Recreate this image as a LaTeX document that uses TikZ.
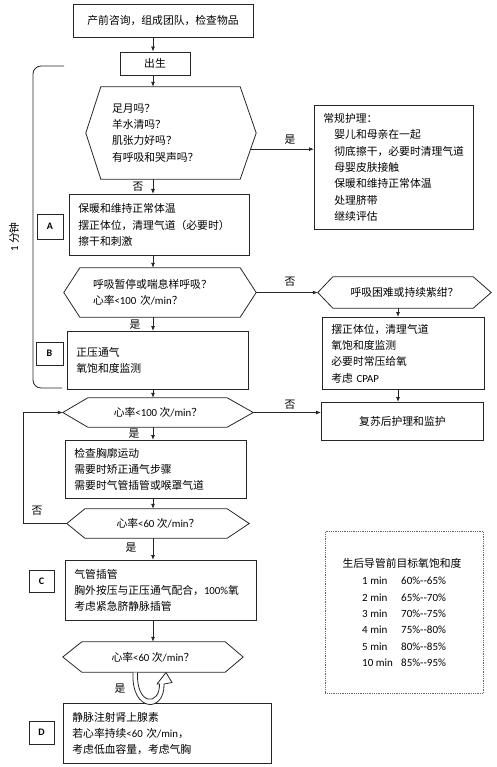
\documentclass[tikz,border=0pt]{standalone}
\usepackage{fontspec}
\setmainfont{Noto Sans CJK SC}
\newfontfamily\lat{Carlito}
\usetikzlibrary{calc,arrows.meta}
\newcommand\dd{-\kern0pt-}
\begin{document}
\begin{tikzpicture}[x=1pt,y=-1pt,
  every node/.style={font=\fontsize{10.8}{16.3}\selectfont},
  ln/.style={line width=0.8pt, draw=black!85},
  bx/.style={ln, draw, inner xsep=9pt, inner ysep=0pt, align=left, anchor=north west},
  cbx/.style={ln, draw, inner sep=0pt, align=center},
  hexn/.style={inner ysep=0pt, align=left},
  lbl/.style={ln, draw, inner sep=0pt, font=\lat\bfseries\fontsize{10}{12}\selectfont},
  arr/.style={ln, -{Latex[length=5pt,width=4pt]}},
  yn/.style={inner sep=0pt}]
\useasboundingbox (0,0) rectangle (496,767);
\coordinate (col) at (153,0);
\coordinate (rcol) at (398,0);

% top boxes
\node[cbx, minimum width=180pt, minimum height=33pt] (top) at (163,20.5) {产前咨询，组成团队，检查物品};
\node[cbx, minimum width=70pt, minimum height=23pt] (birth) at (155,63.5) {出生};

% hexagon 1
\node[hexn, minimum width=170pt, minimum height=92pt, inner xsep=26pt, text width=118pt] (h1) at (171,133)
  {足月吗？\\羊水清吗？\\肌张力好吗？\\有呼吸和哭声吗？};
\coordinate (h1se) at ($(h1.south east)+(-16,0)$);
\draw[ln] ($(h1.north west)+(15,0)$) -- ($(h1.north east)+(-16,0)$) -- (h1.east) -- (h1se) -- ($(h1.south west)+(15,0)$) -- (h1.west) -- cycle;

% routine care
\node[bx, text width=141pt, minimum height=124pt] (care) at (314,105)
  {常规护理：\\\hspace*{11pt}婴儿和母亲在一起\\\hspace*{11pt}彻底擦干，必要时清理气道\\\hspace*{11pt}母婴皮肤接触\\\hspace*{11pt}保暖和维持正常体温\\\hspace*{11pt}处理脐带\\\hspace*{11pt}继续评估};
\coordinate (p1) at ($(h1.east)!0.35!(h1se)$);
\draw[arr] (p1) -- (p1 -| care.west);
\node[yn] (y1) at (290,140) {是};

% A
\node[bx, text width=162pt, minimum height=61pt] (A) at (69,194)
  {保暖和维持正常体温\\摆正体位，清理气道（必要时）\\擦干和刺激};
\node[lbl, minimum width=26pt, minimum height=25pt] (la) at (50,226.5) {A};
\node[yn] (n1) at (138,187) {否};

% hexagon 2
\node[hexn, minimum width=192pt, minimum height=49pt, inner xsep=29pt, text width=134pt] (h2) at (160,292.5)
  {呼吸暂停或喘息样呼吸？\\心率{\lat<100 }次{\lat/min}？};
\draw[ln] ($(h2.north west)+(16,0)$) -- ($(h2.north east)+(-16,0)$) -- (h2.east) -- ($(h2.south east)+(-16,0)$) -- ($(h2.south west)+(16,0)$) -- (h2.west) -- cycle;

% hexagon 3
\node[hexn, align=center, minimum width=173pt, minimum height=31pt, inner xsep=0pt] (h3) at (404.5,292.5)
  {呼吸困难或持续紫绀？};
\draw[ln] ($(h3.north west)+(15,0)$) -- ($(h3.north east)+(-18,0)$) -- (h3.east) -- ($(h3.south east)+(-18,0)$) -- ($(h3.south west)+(15,0)$) -- (h3.west) -- cycle;
\draw[arr] (h2.east) -- (h3.west);
\node[yn] (n2) at (290,282) {否};

% right box 2
\node[bx, text width=144pt, minimum height=72pt] (rb2) at (322,317)
  {摆正体位，清理气道\\氧饱和度监测\\必要时常压给氧\\考虑 {\lat CPAP}};

% B
\node[bx, text width=163pt, minimum height=58pt] (B) at (67,331)
  {正压通气\\氧饱和度监测};
\node[lbl, minimum width=27pt, minimum height=23pt] (lb) at (49.5,353.5) {B};
\node[yn] (y2) at (135,325) {是};

% bracket
\draw[ln, rounded corners=8pt] (64,66) -- (33,66) -- (33,388) -- (62,388);
\node[rotate=90, inner sep=0pt] (min1) at (14,237) {{\lat 1} 分钟};

% hexagon 4
\node[hexn, align=center, minimum width=190pt, minimum height=29pt, inner xsep=0pt] (h4) at (158,412.5)
  {心率{\lat<100 }次{\lat/min}？};
\draw[ln] ($(h4.north west)+(25,0)$) -- ($(h4.north east)+(-26,0)$) -- (h4.east) -- ($(h4.south east)+(-26,0)$) -- ($(h4.south west)+(25,0)$) -- (h4.west) -- cycle;

% post care
\node[cbx, minimum width=162pt, minimum height=38pt, anchor=north west] (post) at (321,402) {复苏后护理和监护};
\draw[arr] (h4.east) -- (h4.east -| post.west);
\node[yn] (n3) at (290,405) {否};

% check box
\node[bx, text width=163pt, minimum height=58pt] (chk) at (65,440)
  {检查胸廓运动\\需要时矫正通气步骤\\需要时气管插管或喉罩气道};
\node[yn] (y3) at (134,434) {是};

% hexagon 5
\node[hexn, align=center, minimum width=182pt, minimum height=29pt, inner xsep=0pt] (h5) at (158,523.5)
  {心率{\lat<60 }次{\lat/min}？};
\draw[ln] ($(h5.north west)+(18,0)$) -- ($(h5.north east)+(-22,0)$) -- (h5.east) -- ($(h5.south east)+(-22,0)$) -- ($(h5.south west)+(18,0)$) -- (h5.west) -- cycle;
\draw[arr] (h5.west) -- ++(-43,0) |- (h4.west);
\node[yn] (n4) at (37,511) {否};
\node[yn] (y4) at (131,548) {是};

% C
\node[bx, text width=173pt, minimum height=60pt] (C) at (65,560)
  {气管插管\\胸外按压与正压通气配合，{\lat 100\%}氧\\考虑紧急脐静脉插管};
\node[lbl, minimum width=25pt, minimum height=22pt] (lc) at (41.5,581) {C};

% hexagon 6
\node[hexn, align=center, minimum width=180pt, minimum height=30pt, inner xsep=0pt] (h6) at (153,657)
  {心率{\lat<60 }次{\lat/min}？};
\draw[ln] ($(h6.north west)+(19,0)$) -- ($(h6.north east)+(-18,0)$) -- (h6.east) -- ($(h6.south east)+(-18,0)$) -- ($(h6.south west)+(19,0)$) -- (h6.west) -- cycle;

% D
\node[bx, text width=190pt, minimum height=60pt] (D) at (63,703)
  {静脉注射肾上腺素\\若心率持续{\lat<60 }次{\lat/min}，\\考虑低血容量，考虑气胸};
\node[lbl, minimum width=25pt, minimum height=23pt] (ld) at (41.5,732.5) {D};

% U-turn arrow
\draw[ln, fill=white, line join=round] (133,672.5) .. controls (131,713) and (165,713) .. (164,684)
  -- (172,682.5) -- (166,672.5) -- (157,684) -- (159.5,684)
  .. controls (160,706) and (136,706) .. (137.5,672.5);
\node[yn] (y5) at (120,689) {是};

% vertical arrows
\draw[arr] (top.south -| col) -- (birth.north -| col);
\draw[arr] (birth.south -| col) -- (h1.north -| col);
\draw[arr] (h1.south -| col) -- (A.north -| col);
\draw[arr] (A.south -| col) -- (h2.north -| col);
\draw[arr] (h2.south -| col) -- (B.north -| col);
\draw[arr] (B.south -| col) -- (h4.north -| col);
\draw[arr] (h4.south -| col) -- (chk.north -| col);
\draw[arr] (chk.south -| col) -- (h5.north -| col);
\draw[arr] (h5.south -| col) -- (C.north -| col);
\draw[arr] (C.south -| col) -- (h6.north -| col);
\draw[arr] (h3.south -| rcol) -- (rb2.north -| rcol);
\draw[arr] (rb2.south -| rcol) -- (post.north -| rcol);

% table
\node[draw=black!60, densely dotted, line width=0.8pt, minimum width=158pt, minimum height=162pt, anchor=north west] (tbl) at (325,531) {};
\node[inner sep=0pt] (tt) at (402,563) {生后导管前目标氧饱和度};
\foreach \i/\t/\p [count=\k] in {1/1 min/60\%\dd65\%, 2/2 min/65\%\dd70\%, 3/3 min/70\%\dd75\%, 4/4 min/75\%\dd80\%, 5/5 min/80\%\dd85\%, 6/10 min/85\%\dd95\%}{
  \node[inner sep=0pt, anchor=west, font=\lat\fontsize{11}{13}\selectfont] (ta\k) at (362,{581+16.4*(\k-1)}) {\t};
  \node[inner sep=0pt, anchor=west, font=\lat\fontsize{11}{13}\selectfont] (tb\k) at (401,{581+16.4*(\k-1)}) {\p};
}
\end{tikzpicture}
\end{document}
